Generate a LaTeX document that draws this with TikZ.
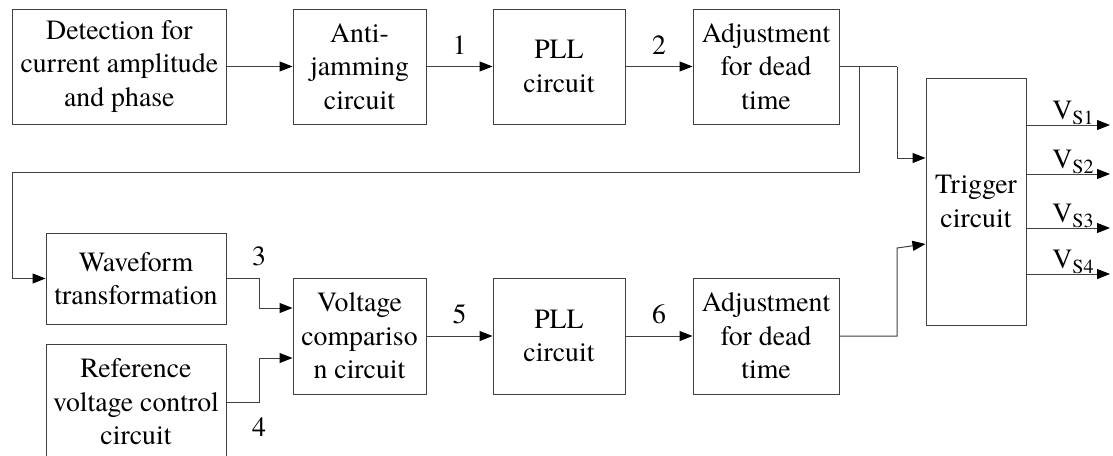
\documentclass[tikz,border=0pt]{standalone}
\usepackage{fontspec}
\setmainfont{TeX Gyre Termes}
\usetikzlibrary{arrows.meta,calc}
\newcommand{\vsub}[1]{V\raisebox{-5pt}{\fontsize{20}{20}\selectfont #1}}
\begin{document}
\begin{tikzpicture}[x=1pt,y=-1pt,
  blk/.style={draw=black!75, line width=1pt, align=center, inner sep=0pt,
    font=\fontsize{27.8}{33.5}\selectfont},
  con/.style={draw=black!75, line width=1pt},
  arr/.style={con, -{Triangle[length=13pt,width=10pt,fill=black,color=black]}},
  lbl/.style={inner sep=0pt, font=\fontsize{27.8}{33.5}\selectfont},
  vlbl/.style={inner sep=0pt, anchor=base, font=\fontsize{27.8}{33.5}\selectfont}
]
\useasboundingbox (0,0) rectangle (1113,455);
\clip (0,0) rectangle (1113,455);

% top row
\node[blk, minimum width=213.3pt, minimum height=115pt] (det) at (119.35,66.5) {Detection for\\current amplitude\\and phase};
\node[blk, minimum width=133pt, minimum height=115pt] (anti) at (359.5,66.5) {Anti-\\jamming\\circuit};
\node[blk, minimum width=132pt, minimum height=115pt] (pll1) at (559,66.5) {PLL\\circuit};
\node[blk, minimum width=146pt, minimum height=115pt] (adj1) at (766,66.5) {Adjustment\\for dead\\time};

% trigger
\node[blk, minimum width=100pt, minimum height=247pt] (trig) at (976,201.5) {Trigger\\circuit};

% bottom
\node[blk, minimum width=180pt, minimum height=91pt] (wave) at (136,278.5) {Waveform\\transformation};
\node[blk, minimum width=180pt, minimum height=116pt] (ref) at (136,402) {Reference\\voltage control\\circuit};
\node[blk, minimum width=133pt, minimum height=116pt] (vc) at (359.5,336) {Voltage\\compariso\\n circuit};
\node[blk, minimum width=132pt, minimum height=116pt] (pll2) at (559,336) {PLL\\circuit};
\node[blk, minimum width=146pt, minimum height=116pt] (adj2) at (766,336) {Adjustment\\for dead\\time};

% top row connectors
\draw[arr] (det) -- (anti);
\draw[arr] (anti) -- node[lbl, above=12pt] {1} (pll1);
\draw[arr] (pll1) -- node[lbl, above=12pt] {2} (adj1);

% adj1 -> trigger, and feedback to waveform
\coordinate (j1) at (859,66.5);
\coordinate (k1) at (897,66.5);
\coordinate (f1) at (859,172);
\coordinate (f2) at (12.7,172);
\draw[con] (adj1.east) -- (k1);
\draw[arr] (k1) |- ($(trig.west)+(0,-43.5)$);
\draw[arr] (j1) -- (f1) -- (f2) |- (wave.west);

% waveform & reference -> voltage comparison
\coordinate (c3) at (259,278.5);
\coordinate (c4) at (259,402);
\draw[arr] (wave.east) -- node[lbl, above=12pt, pos=1] {3} (c3) |- ($(vc.west)+(0,-28)$);
\draw[arr] (ref.east) -- node[lbl, below=15pt, pos=1] {4} (c4) |- ($(vc.west)+(0,22)$);

% bottom row connectors
\draw[arr] (vc) -- node[lbl, above=12pt] {5} (pll2);
\draw[arr] (pll2) -- node[lbl, above=12pt] {6} (adj2);

% adj2 -> trigger
\coordinate (k2) at (897,336);
\coordinate (k3) at (897,248);
\draw[arr] (adj2.east) -- (k2) -- (k3) -- ($(trig.west)+(0,42.5)$);

% outputs
\coordinate (o1) at (1110,125);
\coordinate (o2) at (1110,174);
\coordinate (o3) at (1110,228);
\coordinate (o4) at (1110,274);
\draw[arr] (trig.east |- o1) -- (o1);
\draw[arr] (trig.east |- o2) -- (o2);
\draw[arr] (trig.east |- o3) -- (o3);
\draw[arr] (trig.east |- o4) -- (o4);
\node[vlbl] (v1) at (1073,119) {\vsub{S1}};
\node[vlbl] (v2) at (1073,168) {\vsub{S2}};
\node[vlbl] (v3) at (1073,222) {\vsub{S3}};
\node[vlbl] (v4) at (1073,268) {\vsub{S4}};
\end{tikzpicture}
\end{document}
